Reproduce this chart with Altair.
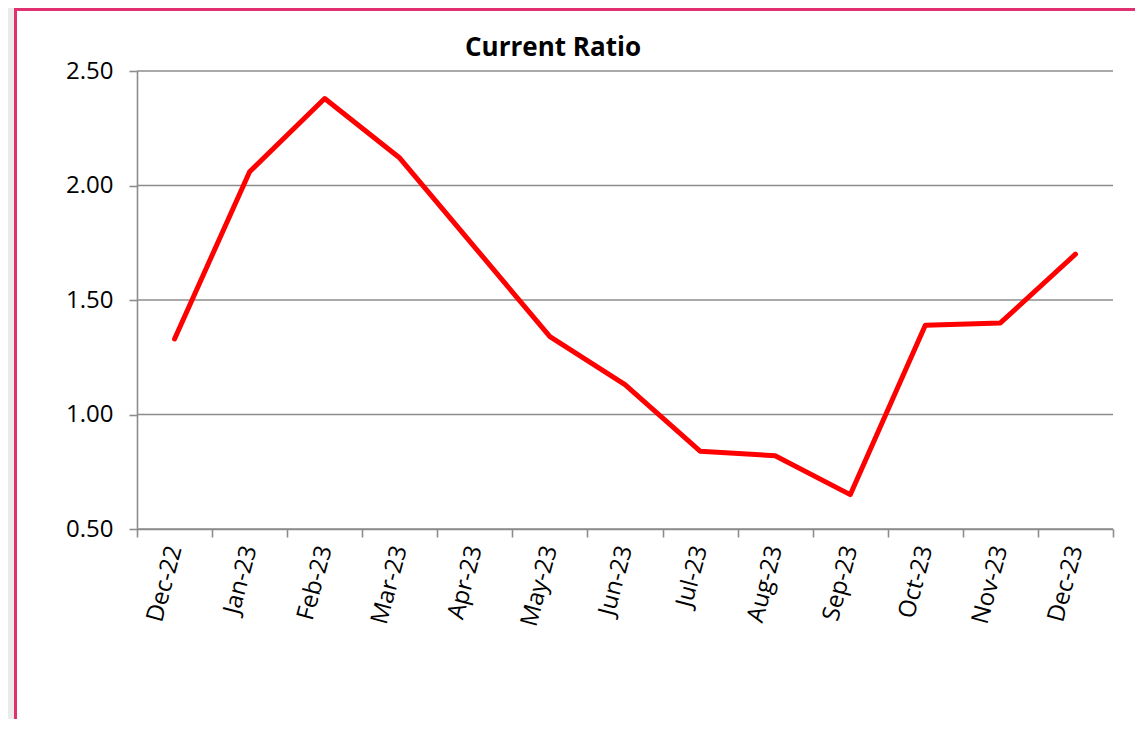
import altair as alt
import pandas as pd

months = ["Dec-22", "Jan-23", "Feb-23", "Mar-23", "Apr-23", "May-23", "Jun-23",
          "Jul-23", "Aug-23", "Sep-23", "Oct-23", "Nov-23", "Dec-23"]
ratio = [1.33, 2.06, 2.38, 2.12, 1.73, 1.34, 1.13, 0.84, 0.82, 0.65, 1.39, 1.40, 1.70]
y_ticks = [0.5, 1.0, 1.5, 2.0, 2.5]
title_text = "Current Ratio"

df = pd.DataFrame({"month": months, "ratio": ratio})
grid_df = pd.DataFrame({"tick": y_ticks})
one = pd.DataFrame({"a": [0]})

FONT = "Open Sans"
GRID = "#8c8c8c"
PINK = "#e0306f"

y_scale = alt.Scale(domain=[0.5, 2.5], nice=False, zero=False)

panel = alt.Chart(one).mark_rect(fill="white").encode(
    x=alt.value(-121.5), x2=alt.value(998),
    y=alt.value(-61.5), y2=alt.value(650),
)
frame_left = alt.Chart(one).mark_rule(color=PINK, strokeWidth=3).encode(
    x=alt.value(-121.5), y=alt.value(-63), y2=alt.value(650),
)
frame_top = alt.Chart(one).mark_rule(color=PINK, strokeWidth=3).encode(
    x=alt.value(-123), x2=alt.value(998), y=alt.value(-61.5),
)

grid = alt.Chart(grid_df).mark_rule(color=GRID, strokeWidth=1.6).encode(
    y=alt.Y("tick:Q", scale=y_scale),
)

title = alt.Chart(pd.DataFrame({"t": [title_text]})).mark_text(
    font=FONT, fontSize=26, fontWeight="bold", color="#000000",
    align="center", baseline="alphabetic"
).encode(text="t:N", x=alt.value(416), y=alt.value(-15))

line = alt.Chart(df).mark_line(
    color="#ff0000", strokeWidth=5, strokeJoin="round", strokeCap="round"
).encode(
    x=alt.X("month:N", sort=months,
            scale=alt.Scale(paddingInner=0, paddingOuter=0),
            axis=alt.Axis(title=None, labelAngle=-75, labelAlign="right",
                          labelBaseline="middle", labelPadding=9,
                          tickBand="extent", tickSize=8, tickColor=GRID,
                          tickWidth=1.6, domainColor=GRID, domainWidth=1.6,
                          labelFont=FONT, labelFontSize=24, labelColor="#000000",
                          grid=False, zindex=1)),
    y=alt.Y("ratio:Q", scale=y_scale,
            axis=alt.Axis(title=None, values=y_ticks, format=".2f",
                          tickSize=8, tickColor=GRID, tickWidth=1.6,
                          domainColor=GRID, domainWidth=1.6, grid=False,
                          labelPadding=16, labelFont=FONT, labelFontSize=24,
                          labelColor="#000000", zindex=1)),
)

chart = alt.layer(panel, frame_left, frame_top, grid, title, line).properties(
    width=976, height=458,
    padding={"left": 129, "top": 63, "right": 22, "bottom": 190},
    autosize=alt.AutoSizeParams(type="none"),
    background="#ebebeb",
).configure_view(stroke=None)

chart.save("out.html", embed_options={"renderer": "svg", "actions": False})
